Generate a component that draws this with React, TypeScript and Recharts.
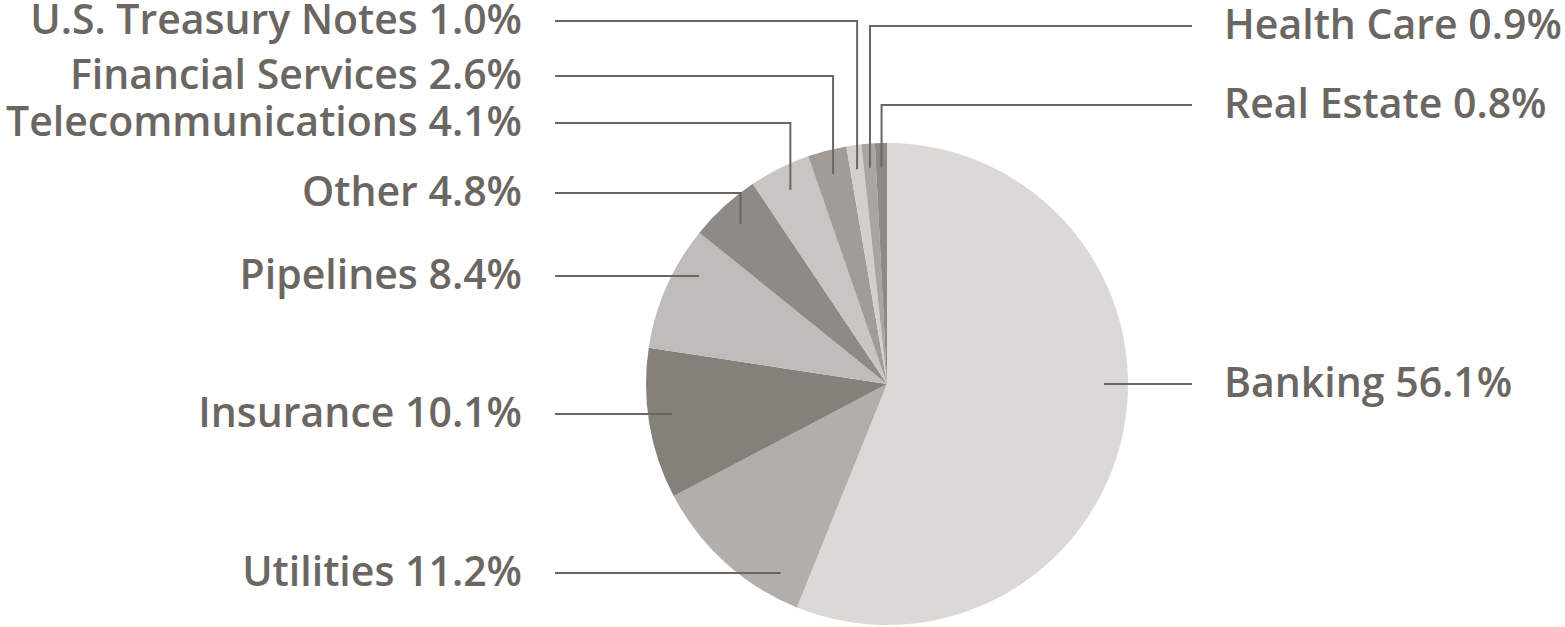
import React from "react";
import { PieChart, Pie, Cell } from "recharts";

const sectors = [
  "Banking",
  "Utilities",
  "Insurance",
  "Pipelines",
  "Other",
  "Telecommunications",
  "Financial Services",
  "U.S. Treasury Notes",
  "Health Care",
  "Real Estate",
];
const weights = [56.1, 11.2, 10.1, 8.4, 4.8, 4.1, 2.6, 1.0, 0.9, 0.8];
const colors = [
  "#dcd8d6",
  "#b2aeaa",
  "#858079",
  "#c0bcb9",
  "#8f8a86",
  "#c9c5c2",
  "#a19c98",
  "#d3cfcc",
  "#a9a5a1",
  "#8e8985",
];

// label placement: row of the text and which side it sits on
const labelRows = [384, 573, 414, 276, 193, 123, 76, 21, 26, 105];
const labelSides = ["R", "L", "L", "L", "L", "L", "L", "L", "R", "R"];
const elbow = [false, false, false, false, true, true, true, true, true, true];

const data = sectors.map((name, i) => ({ name, value: weights[i] }));

const TEXT = "#6b6662";
const RAD = Math.PI / 180;

const renderLabel = (props: any) => {
  const { cx, cy, midAngle, outerRadius, index } = props;
  const r = outerRadius * 0.9;
  const rowY = labelRows[index];
  const left = labelSides[index] === "L";
  const lineStart = left ? 555 : 1192;
  const textX = left ? 522 : 1224;
  let path: string;
  if (elbow[index]) {
    const px = cx + r * Math.cos(-midAngle * RAD);
    const py = cy + r * Math.sin(-midAngle * RAD);
    path = `M${lineStart},${rowY}H${px}V${py}`;
  } else {
    const dy = rowY - cy;
    const dx = Math.sqrt(Math.max(r * r - dy * dy, 0));
    const px = left ? cx - dx : cx + dx;
    path = `M${lineStart},${rowY}H${px}`;
  }
  return (
    <g key={`lbl-${index}`}>
      <path d={path} stroke={TEXT} strokeWidth={2} fill="none" />
      <text
        x={textX}
        y={rowY + 13}
        textAnchor={left ? "end" : "start"}
        fill={TEXT}
        fontSize={41}
        fontWeight={600}
        fontFamily="'Open Sans', sans-serif"
      >
        {`${sectors[index]} ${weights[index].toFixed(1)}%`}
      </text>
    </g>
  );
};

export default function App() {
  return (
    <div style={{ position: "absolute", left: 0, top: 0, background: "#fff" }}>
      <PieChart
        width={1565}
        height={627}
        margin={{ top: 0, right: 0, bottom: 0, left: 0 }}
      >
        <Pie
          data={data}
          dataKey="value"
          nameKey="name"
          cx={887}
          cy={384}
          outerRadius={241}
          startAngle={90}
          endAngle={-270}
          stroke="none"
          label={renderLabel}
          labelLine={false}
          isAnimationActive={false}
        >
          {data.map((entry, index) => (
            <Cell key={`cell-${index}`} fill={colors[index]} />
          ))}
        </Pie>
      </PieChart>
    </div>
  );
}
